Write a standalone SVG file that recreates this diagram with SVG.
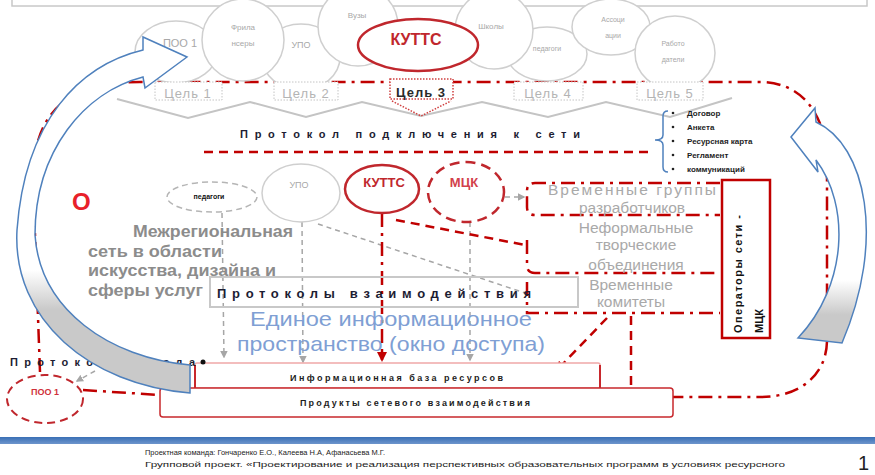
<svg xmlns="http://www.w3.org/2000/svg" width="875" height="475" viewBox="0 0 875 475">
<defs>
<style>
text{font-family:"Liberation Sans",Arial,sans-serif}
.cl{fill:#fff;stroke:#cfcfcf;stroke-width:1.5}
.clt{fill:#a8a8a8;font-size:8px;text-anchor:middle}
.rdd{fill:none;stroke:#c00000;stroke-width:2.5;stroke-dasharray:14 6 3 6}
.rd{fill:none;stroke:#c00000;stroke-width:2.5;stroke-dasharray:9 6}
.gd{fill:none;stroke:#a6a6a6;stroke-width:1.5;stroke-dasharray:5 4}
.tab{fill:#fff;stroke:#c4c4c4;stroke-width:1;stroke-dasharray:1.5 1.5}
.tabt{fill:#b4b4b4;font-size:13px;text-anchor:middle;letter-spacing:1px}
.grt{fill:#a9a9a9;font-size:15.5px;text-anchor:middle}
.mrt{fill:#8c8c8c;font-size:16px;font-weight:bold}
.blu{fill:#7f9fd4;font-size:21px;text-anchor:middle}
.sp{fill:#1d1d33;font-weight:bold}
.bl{fill:#1d1d1d;font-size:8px;font-weight:bold}
.arr{stroke:#4f81bd;stroke-width:1.5}
.ft{fill:#222;font-size:8px}
</style>
<marker id="ga" viewBox="0 0 10 10" refX="8" refY="5" markerWidth="5" markerHeight="5" orient="auto"><path d="M0,0 L10,5 L0,10 z" fill="#a6a6a6"/></marker>
<marker id="ra" viewBox="0 0 10 10" refX="8" refY="5" markerWidth="4" markerHeight="4" orient="auto"><path d="M0,0 L10,5 L0,10 z" fill="#c00000"/></marker>
<linearGradient id="lg" x1="0" y1="270" x2="0" y2="310" gradientUnits="userSpaceOnUse"><stop offset="0" stop-color="#fff"/><stop offset="1" stop-color="#c9c9c9"/></linearGradient>
<linearGradient id="rg" x1="0" y1="280" x2="0" y2="315" gradientUnits="userSpaceOnUse"><stop offset="0" stop-color="#fff"/><stop offset="1" stop-color="#c9c9c9"/></linearGradient>
<linearGradient id="bar" x1="0" y1="0" x2="0" y2="1"><stop offset="0" stop-color="#3a6fb5"/><stop offset="1" stop-color="#6d95cc"/></linearGradient>
</defs>
<rect width="875" height="475" fill="#fff"/>
<rect x="12" y="-10" width="855" height="16" fill="none" stroke="#c8c8c8" stroke-width="1.5"/>

<!-- main frame -->
<g id="frame">
<path class="rdd" d="M40,372 L33,180 C33,110 70,82 140,82 L760,82 C800,82 827,112 827,165 L827,340 C827,375 800,397 760,397 L673,397"/>
<path class="rdd" d="M83,390 L160,395"/>
</g>

<!-- cloud -->
<g id="cloud">
<g id="c-poo1"><ellipse class="cl" cx="176" cy="52" rx="41" ry="31"/><text x="180" y="47" class="clt" style="font-size:11px">ПОО 1</text></g>
<g id="c-upo"><ellipse class="cl" cx="301" cy="57" rx="39" ry="33"/><text x="301" y="48" class="clt" style="font-size:9px">УПО</text></g>
<g id="c-free"><circle class="cl" cx="243" cy="40" r="41"/><text x="243" y="30" class="clt">Фрила</text><text x="243" y="46" class="clt">нсеры</text></g>
<g id="c-vuz"><circle class="cl" cx="358" cy="26" r="40"/><text x="357" y="18" class="clt">Вузы</text></g>
<g id="c-ped"><ellipse class="cl" cx="547" cy="54" rx="40" ry="27"/><text x="547" y="51" class="clt" style="font-size:7px">педагоги</text></g>
<g id="c-shk"><circle class="cl" cx="494" cy="30" r="39"/><text x="491" y="29" class="clt">Школы</text></g>
<g id="c-assoc"><ellipse class="cl" cx="611" cy="27" rx="39" ry="28"/><text x="613" y="22" class="clt" style="font-size:7px">Ассоци</text><text x="613" y="38" class="clt" style="font-size:7px">ации</text></g>
<g id="c-rab"><ellipse class="cl" cx="675" cy="53" rx="40" ry="37"/><text x="673" y="46" class="clt" style="font-size:7px">Работо</text><text x="673" y="62" class="clt" style="font-size:7px">датели</text></g>
<g id="c-kutts"><ellipse cx="418" cy="45" rx="60" ry="26" fill="#fff" stroke="#c0272d" stroke-width="2.5"/><text x="416" y="45" fill="#c0272d" font-size="16" font-weight="bold" text-anchor="middle">КУТТС</text></g>
</g>

<!-- goals -->
<g id="goals">
<polyline points="117,99 188,118 250,102 306,117 362,102 421,116 482,102 548,117 606,102 670,117 732,98" fill="none" stroke="#c4c4c4" stroke-width="2"/>
<polyline points="392,101 421,116 451,101" fill="none" stroke="#d04040" stroke-width="1.5" stroke-dasharray="1.5 1.5"/>
<g id="goal1"><rect class="tab" x="155" y="82" width="67" height="18"/><text x="188" y="98" class="tabt">Цель 1</text></g>
<g id="goal2"><rect class="tab" x="274" y="82" width="64" height="18"/><text x="306" y="98" class="tabt">Цель 2</text></g>
<g id="goal3"><rect x="390" y="79" width="63" height="20" fill="#fff" stroke="#d04040" stroke-width="1.5" stroke-dasharray="1.5 1.5"/><text x="421" y="97" fill="#2a2a2a" font-size="13" font-weight="bold" text-anchor="middle" letter-spacing="1">Цель 3</text></g>
<g id="goal4"><rect class="tab" x="514" y="82" width="69" height="18"/><text x="548" y="98" class="tabt">Цель 4</text></g>
<g id="goal5"><rect class="tab" x="637" y="82" width="66" height="18"/><text x="670" y="98" class="tabt">Цель 5</text></g>
</g>

<g id="protocol-connect">
<text x="240" y="138" class="sp" font-size="11" textLength="340" lengthAdjust="spacing">Протокол подключения к сети</text>
<line x1="204" y1="152" x2="653" y2="152" class="rd" stroke-width="2.5"/>
</g>

<g id="doc-list">
<path d="M668,111 Q663,111 663,116 L663,135 Q663,140 655,140 Q663,140 663,145 L663,167 Q663,172 668,172" fill="none" stroke="#4f81bd" stroke-width="1.5"/>
<g class="bl">
<circle cx="673" cy="113" r="1.3" fill="#222"/><text x="687" y="116">Договор</text>
<circle cx="673" cy="127" r="1.3" fill="#222"/><text x="687" y="130">Анкета</text>
<circle cx="673" cy="141" r="1.3" fill="#222"/><text x="687" y="144">Ресурсная карта</text>
<circle cx="673" cy="155" r="1.3" fill="#222"/><text x="687" y="158">Регламент</text>
<circle cx="673" cy="169" r="1.3" fill="#222"/><text x="687" y="172">коммуникаций</text>
</g>
</g>

<!-- connectors -->
<g id="connectors">
<line x1="222" y1="213" x2="224" y2="357" class="gd" marker-end="url(#ga)"/>
<line x1="302" y1="222" x2="303" y2="362" class="gd" marker-end="url(#ga)"/>
<line x1="470" y1="222" x2="470" y2="360" class="gd" marker-end="url(#ga)"/>
<line x1="318" y1="224" x2="525" y2="293" class="gd"/>
<line x1="505" y1="197" x2="524" y2="197" class="gd" marker-end="url(#ga)"/>
<line x1="382" y1="213" x2="382" y2="360" class="rdd" stroke-width="2" marker-end="url(#ra)"/>
<line x1="396" y1="220" x2="525" y2="245" class="rd" stroke-width="2"/>
<line x1="607" y1="318" x2="557" y2="370" class="rd" marker-end="url(#ra)"/>
<line x1="631" y1="316" x2="631" y2="402" class="rd" marker-end="url(#ra)"/>
<line x1="95" y1="371" x2="77" y2="381" class="gd" marker-end="url(#ga)"/>
</g>

<!-- middle nodes -->
<g id="n-ped"><ellipse cx="212" cy="197" rx="45" ry="15" fill="#fff" stroke="#b5b5b5" stroke-width="1.5" stroke-dasharray="6 4"/><text x="209" y="199" fill="#111" font-size="7" font-weight="bold" text-anchor="middle">педагоги</text></g>
<g id="n-upo"><ellipse cx="301" cy="193" rx="39" ry="29" fill="#fff" stroke="#cfcfcf" stroke-width="1.5"/><text x="299" y="188" fill="#a8a8a8" font-size="9" text-anchor="middle">УПО</text></g>
<g id="n-kutts"><ellipse cx="382" cy="189" rx="37" ry="24" fill="#fff" stroke="#c0272d" stroke-width="2.5"/><text x="384" y="187" fill="#c0272d" font-size="13" font-weight="bold" text-anchor="middle">КУТТС</text></g>
<g id="n-mck"><ellipse cx="466" cy="192" rx="38" ry="30" fill="#fff" stroke="#c0272d" stroke-width="2.5" stroke-dasharray="10 6"/><text x="464" y="187" fill="#d2404a" font-size="13" font-weight="bold" text-anchor="middle">МЦК</text></g>
<g id="n-o"><text x="72" y="210" fill="#e8202a" font-size="24" font-weight="bold">О</text></g>

<!-- groups -->
<g id="groups">
<path class="rdd" d="M720,183 L535,183 Q527,183 527,191 L527,207 Q527,215 535,215 L720,215"/>
<path class="rdd" d="M527,240 L527,265 Q527,273 535,273 L720,273"/>
<path class="rdd" d="M527,282 L527,313 L720,313"/>
<text x="632" y="195" class="grt" textLength="168" lengthAdjust="spacing">Временные группы</text>
<text x="632" y="213" class="grt">разработчиков</text>
<text x="636" y="233" class="grt">Неформальные</text>
<text x="636" y="250" class="grt">творческие</text>
<text x="636" y="270" class="grt">объединения</text>
<text x="631" y="290" class="grt">Временные</text>
<text x="631" y="307" class="grt">комитеты</text>
</g>
<g id="operators">
<rect x="722" y="180" width="48" height="158" fill="#fff" stroke="#c00000" stroke-width="2.5"/>
<text transform="translate(742,333) rotate(-90)" fill="#111" font-size="11" font-weight="bold" textLength="118" lengthAdjust="spacing">Операторы сети -</text>
<text transform="translate(763,333) rotate(-90)" fill="#111" font-size="11" font-weight="bold">МЦК</text>
</g>

<g id="net-title">
<text x="133" y="237" class="mrt" textLength="160" lengthAdjust="spacingAndGlyphs">Межрегиональная</text>
<text x="88" y="257" class="mrt" textLength="134" lengthAdjust="spacingAndGlyphs">сеть в области</text>
<text x="88" y="276" class="mrt" textLength="188" lengthAdjust="spacingAndGlyphs">искусства, дизайна и</text>
<text x="88" y="296" class="mrt" textLength="115" lengthAdjust="spacingAndGlyphs">сферы услуг</text>
</g>

<g id="protocols">
<rect x="210" y="277" width="368" height="30" fill="none" stroke="#c8c8c8" stroke-width="2"/>
<text x="217" y="298" class="sp" font-size="13" textLength="314" lengthAdjust="spacing">Протоколы взаимодействия</text>
</g>
<g id="space">
<text x="391" y="326" class="blu" textLength="282" lengthAdjust="spacingAndGlyphs">Единое информационное</text>
<text x="391" y="351" class="blu" textLength="308" lengthAdjust="spacingAndGlyphs">пространство (окно доступа)</text>
</g>

<g id="infobase">
<rect x="195" y="363" width="405" height="25" rx="2" fill="#fff" stroke="#f0a8a8" stroke-width="1.5"/>
<line x1="195" y1="365" x2="195" y2="388" stroke="#c8282d" stroke-width="2"/>
<line x1="600" y1="365" x2="600" y2="388" stroke="#c8282d" stroke-width="2"/>
<text x="290" y="381" fill="#1d1d1d" font-size="9" font-weight="bold" textLength="213" lengthAdjust="spacing">Информационная база ресурсов</text>
</g>
<g id="products">
<rect x="160" y="388" width="513" height="29" rx="3" fill="#fff" stroke="#c8282d" stroke-width="1.5"/>
<text x="300" y="406" fill="#1d1d1d" font-size="9" font-weight="bold" textLength="230" lengthAdjust="spacing">Продукты сетевого взаимодействия</text>
</g>

<g id="exit">
<text x="10" y="366" class="sp" font-size="11" textLength="185" lengthAdjust="spacing">Протокол выхода</text>
<circle cx="203" cy="362" r="2.5" fill="#111"/>
</g>
<g id="n-poo1b"><ellipse cx="45" cy="399" rx="38" ry="24" fill="#fff" stroke="#c0272d" stroke-width="2" stroke-dasharray="8 5"/><text x="45" y="395" fill="#d0303a" font-size="9" font-weight="bold" text-anchor="middle">ПОО 1</text></g>

<!-- arrows -->
<g id="arrow-left">
<path class="arr" fill="url(#lg)" d="M143,50 C80,65 25,120 17,230 C12,320 90,385 190,393 L190,365 C110,358 40,310 35,235 C35,150 85,92 143,77 L145,88 L187,57 L143,37 Z"/>
</g>
<g id="arrow-right">
<path class="arr" fill="url(#rg)" d="M791,137 L815,108 L816,122 C866,145 886,240 842,343 L798,338 C848,285 850,205 816,160 L818,172 Z"/>
</g>

<g id="footer">
<rect x="0" y="437" width="875" height="7" fill="url(#bar)"/>
<text x="145" y="455" class="ft" textLength="240" lengthAdjust="spacingAndGlyphs">Проектная команда: Гончаренко Е.О., Калеева Н.А, Афанасьева М.Г.</text>
<text x="145" y="467" class="ft" textLength="640" lengthAdjust="spacingAndGlyphs">Групповой проект. «Проектирование и реализация перспективных образовательных программ в условиях ресурсного</text>
<text x="858" y="470" fill="#222" font-size="20">1</text>
</g>
</svg>
